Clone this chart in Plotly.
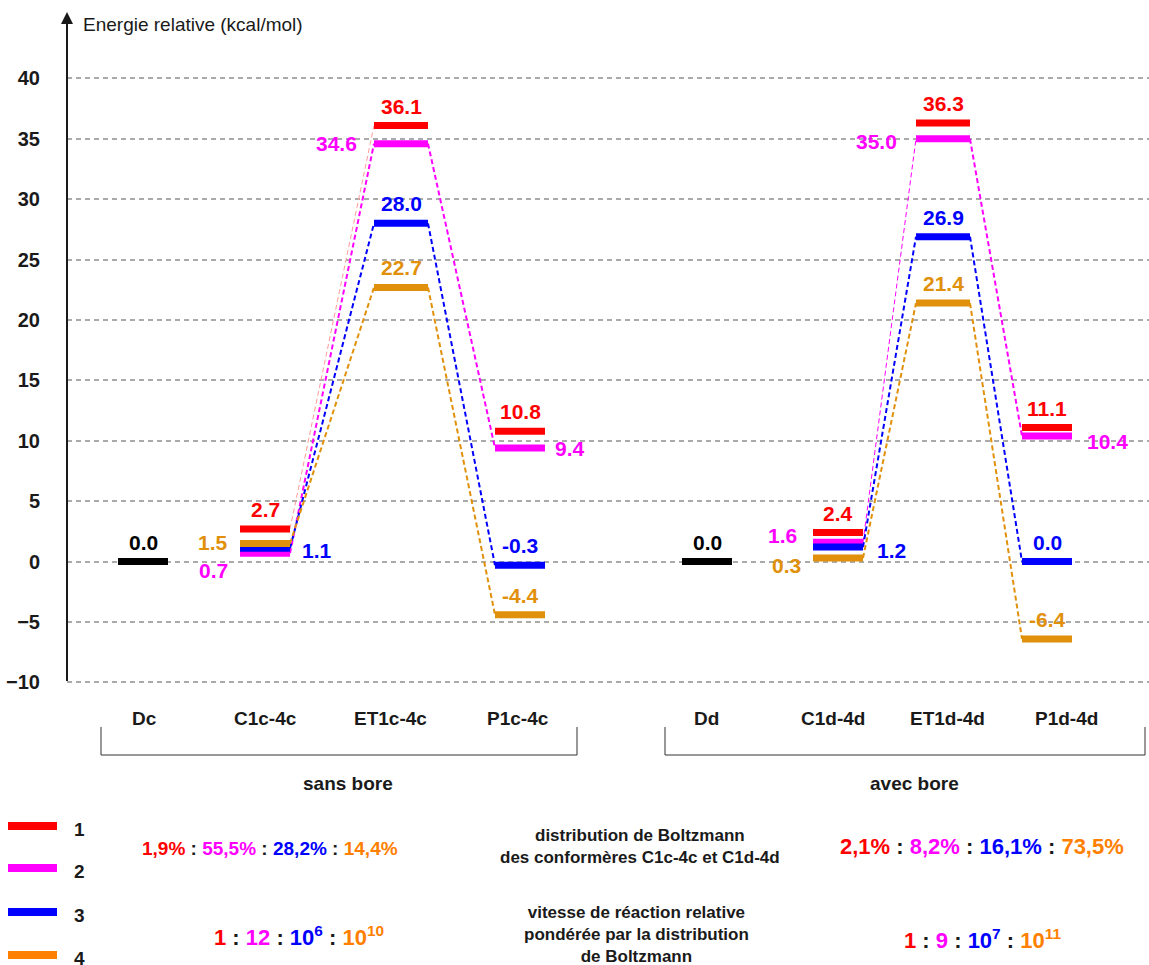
import plotly.graph_objects as go

# ---- data -----------------------------------------------------------------
categories = ["Dc", "C1c-4c", "ET1c-4c", "P1c-4c", "Dd", "C1d-4d", "ET1d-4d", "P1d-4d"]
ref_level = [0.0, None, None, None, 0.0, None, None, None]
# relative energies (kcal/mol) of conformers 1..4
conf1 = [None, 2.7, 36.1, 10.8, None, 2.4, 36.3, 11.1]
conf2 = [None, 0.7, 34.6, 9.4, None, 1.6, 35.0, 10.4]
conf3 = [None, 1.1, 28.0, -0.3, None, 1.2, 26.9, 0.0]
conf4 = [None, 1.5, 22.7, -4.4, None, 0.3, 21.4, -6.4]

group_names = ["sans bore", "avec bore"]
boltz_c = ["1,9%", "55,5%", "28,2%", "14,4%"]
boltz_d = ["2,1%", "8,2%", "16,1%", "73,5%"]
rate_c = ["1", "12", "10<sup>6</sup>", "10<sup>10</sup>"]
rate_d = ["1", "9", "10<sup>7</sup>", "10<sup>11</sup>"]
y_ticks = [-10, -5, 0, 5, 10, 15, 20, 25, 30, 35, 40]

# ---- layout constants ----------------------------------------------------------
W, H = 1149, 965
FONT = "Arial, 'Liberation Sans', sans-serif"
INK = "#1a1a1a"
RED, MAG, BLUE, GOLD, ORANGE = "#ff0000", "#ff00ff", "#0000ff", "#e0900a", "#ff8000"

# x (px) of each level's centre and half-width, and of the category names
x_c = [143, 265, 401, 520, 707, 838, 943, 1047]
half_w = [25, 25, 27, 25, 25, 25, 27, 25]
x_name = [144, 265, 390, 518, 706, 833, 947, 1066]

# y scale: 0 kcal/mol at y=561.6 px, 12.08 px per kcal/mol
Y0, PX = 561.6, 12.08
y_range = [(Y0 - H) / PX, Y0 / PX]


def py(p):
    """pixel row -> paper fraction"""
    return 1 - p / H


series = [
    # name, values, colour; draw order keeps the stacking of the reference
    ("2", conf2, MAG),
    ("3", conf3, BLUE),
    ("4", conf4, GOLD),
    ("1", conf1, RED),
]
links = [(1, 2), (2, 3), (5, 6), (6, 7)]
thin_links = {"1": [(1, 2)], "2": [(5, 6)]}
no_links = {"1": [(2, 3), (5, 6), (6, 7)]}

# label placement: (side, dx, dy) ; default is above the level
label_pos = {
    ("2", 1): ("left", -10, -17), ("4", 1): ("left", -10, 1), ("3", 1): ("right", 10, -2),
    ("2", 2): ("left", -15, 0), ("2", 3): ("right", 8, 0),
    ("2", 5): ("left", -14, 7), ("4", 5): ("left", -10, -8), ("3", 5): ("right", 12, -3),
    ("2", 6): ("left", -17, -3), ("2", 7): ("right", 13, -6),
}

fig = go.Figure()
annotations = []


def note(**kw):
    base = dict(showarrow=False, xanchor="center", yanchor="middle")
    base.update(kw)
    annotations.append(base)


# dashed connectors
for name, vals, col in series:
    for a, b in links:
        if (a, b) in no_links.get(name, []) or vals[a] is None or vals[b] is None:
            continue
        thin = (a, b) in thin_links.get(name, [])
        fig.add_trace(go.Scatter(
            x=[x_c[a] + half_w[a], x_c[b] - half_w[b]], y=[vals[a], vals[b]],
            mode="lines", hoverinfo="skip", showlegend=False,
            line=dict(color="#ff9a9a" if (thin and name == "1") else col,
                      width=1 if thin else 2, dash="5px,3px"),
        ))


# energy levels
def level_trace(vals, col):
    xs, ys = [], []
    for i, v in enumerate(vals):
        if v is None:
            continue
        xs += [x_c[i] - half_w[i], x_c[i] + half_w[i], None]
        ys += [v, v, None]
    return go.Scatter(x=xs, y=ys, mode="lines", hoverinfo="skip", showlegend=False,
                      line=dict(color=col, width=7))


fig.add_trace(level_trace(ref_level, "#000000"))
for name, vals, col in series:
    fig.add_trace(level_trace(vals, col))


def value_label(i, v, col, pos):
    common = dict(text=f"<b>{v:.1f}</b>", xref="x", yref="y", y=v,
                  font=dict(family=FONT, size=21, color=col))
    if pos is None:
        note(**common, x=x_c[i], yanchor="bottom", yshift=6)
    else:
        side, dx, dy = pos
        if side == "left":
            note(**common, x=x_c[i] - half_w[i], xanchor="right", xshift=dx, yshift=dy)
        else:
            note(**common, x=x_c[i] + half_w[i], xanchor="left", xshift=dx, yshift=dy)


for i, v in enumerate(ref_level):
    if v is not None:
        value_label(i, v, "#000000", None)
for name, vals, col in series:
    for i, v in enumerate(vals):
        if v is not None:
            value_label(i, v, col, label_pos.get((name, i)))

# y axis arrow and title
annotations.append(dict(x=67, y=(Y0 - 12) / PX, ax=67, ay=y_ticks[0], xref="x", yref="y",
                        axref="x", ayref="y", text="", showarrow=True, arrowhead=2,
                        arrowsize=1.2, arrowwidth=2, arrowcolor=INK))
note(x=81 / W, y=py(25), xref="paper", yref="paper", xanchor="left",
     text="Energie relative (kcal/mol)", font=dict(family=FONT, size=19, color=INK))

# category names
for xn, c in zip(x_name, categories):
    note(x=xn, y=py(718), xref="x", yref="paper",
         text=f"<b>{c}</b>", font=dict(family=FONT, size=19, color=INK))

# group brackets
shapes = []
brackets = [(101, 577), (665, 1145)]
group_x = [348, 914]
for (x0, x1), gx, g in zip(brackets, group_x, group_names):
    shapes.append(dict(type="path", xref="x", yref="paper",
                       path=f"M {x0},{py(727)} L {x0},{py(755)} L {x1},{py(755)} L {x1},{py(727)}",
                       line=dict(color="#333333", width=1)))
    note(x=gx, y=py(783), xref="x", yref="paper",
         text=f"<b>{g}</b>", font=dict(family=FONT, size=19, color=INK))

# legend swatches
legend_cols = [RED, MAG, BLUE, ORANGE]
legend_y = [826, 868, 912, 955]
for k, (col, yy) in enumerate(zip(legend_cols, legend_y)):
    shapes.append(dict(type="line", xref="paper", yref="paper", x0=8 / W, x1=57 / W,
                       y0=py(yy), y1=py(yy), line=dict(color=col, width=8)))
    note(x=79 / W, y=py(yy + 3), xref="paper", yref="paper",
         text=f"<b>{k + 1}</b>", font=dict(family=FONT, size=19, color=INK))


def ratio_text(parts):
    cols = [RED, MAG, BLUE, ORANGE]
    sep = f"<span style='color:{INK}'> : </span>"
    return "<b>" + sep.join(f"<span style='color:{c}'>{p}</span>" for c, p in zip(cols, parts)) + "</b>"


for x, y, parts, size in [(270, 848, boltz_c, 19), (982, 846, boltz_d, 22),
                          (299, 936, rate_c, 22), (982, 939, rate_d, 22)]:
    note(x=x, y=py(y), xref="x", yref="paper",
         text=ratio_text(parts), font=dict(family=FONT, size=size))

note(x=640, y=py(846), xref="x", yref="paper",
     text="<b>distribution de Boltzmann<br>des conformères C1c-4c et C1d-4d</b>",
     font=dict(family=FONT, size=17, color=INK))
note(x=636, y=py(934), xref="x", yref="paper",
     text="<b>vitesse de réaction relative<br>pondérée par la distribution<br>de Boltzmann</b>",
     font=dict(family=FONT, size=17, color=INK))

fig.update_layout(
    width=W, height=H,
    margin=dict(l=0, r=0, t=0, b=0),
    paper_bgcolor="white", plot_bgcolor="white",
    xaxis=dict(domain=[67 / W, 1], range=[67, W], visible=False, fixedrange=True),
    yaxis=dict(range=y_range, tickvals=y_ticks, showgrid=True, gridcolor="#aaaaaa",
               griddash="5px,4px", gridwidth=1.5, zeroline=False, showline=False,
               ticks="", ticklabelstandoff=26,
               tickfont=dict(family=FONT, size=20, color=INK, weight="bold"),
               fixedrange=True),
    shapes=shapes,
    annotations=annotations,
    showlegend=False,
)

# the page's default 8px body margin would shift the whole figure
fig.write_html("out.html", config={"displayModeBar": False},
               post_script="document.body.style.margin='0';")
